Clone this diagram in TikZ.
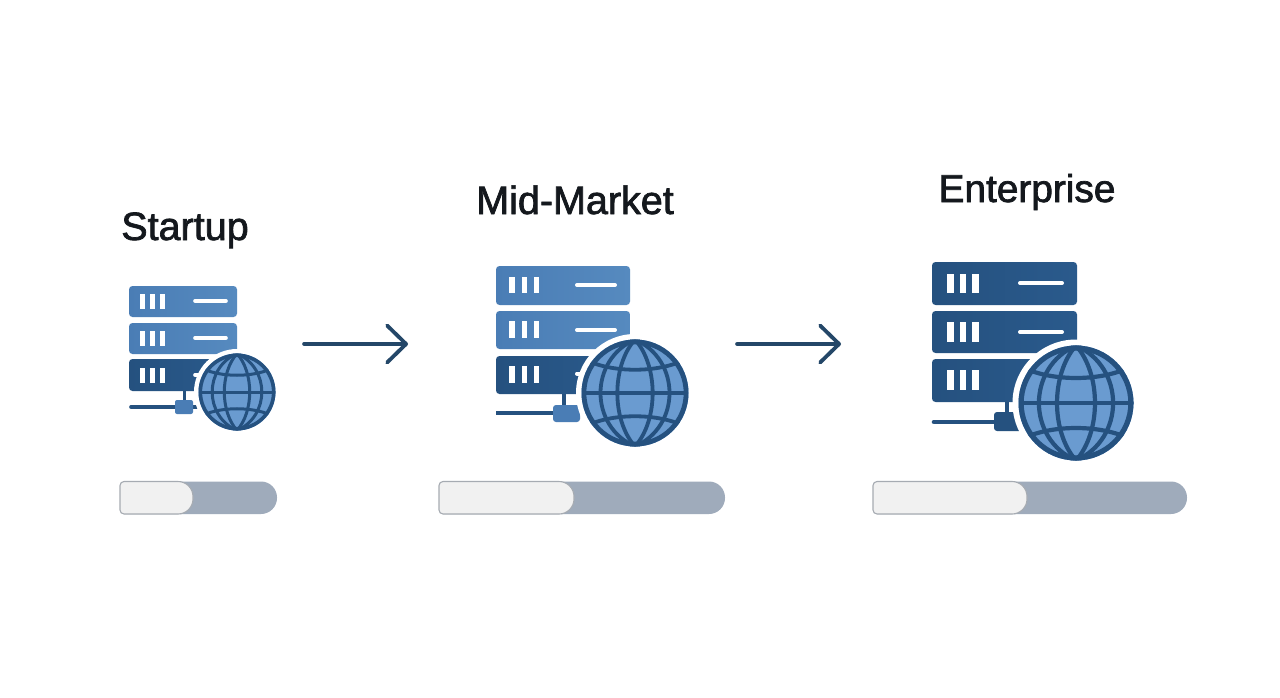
\documentclass[tikz,border=0pt]{standalone}
\usepackage{fontspec}
\setmainfont[FakeBold=1.8]{Liberation Sans}
\usetikzlibrary{arrows.meta}
\definecolor{navy}{HTML}{25517F}
\definecolor{navyB}{HTML}{2A5A8C}
\definecolor{steel}{HTML}{4A7DB5}
\definecolor{steelB}{HTML}{568ABF}
\definecolor{globefill}{HTML}{6A9BD0}
\definecolor{arrowc}{HTML}{244768}
\definecolor{track}{HTML}{9FABBB}
\definecolor{barfill}{HTML}{F1F1F1}
\definecolor{barline}{HTML}{A6ABB2}
\definecolor{inkc}{HTML}{14181D}
\tikzset{
  title/.style={font=\fontsize{#1}{#1}\selectfont,text=inkc,anchor=base,inner sep=0pt},
  lightrow/.style={left color=steel,right color=steelB,draw=none,rounded corners=3.5pt},
  darkrow/.style={left color=navy,right color=navyB,draw=none,rounded corners=3.5pt},
  dashmark/.style={draw=white,line cap=round},
  flow/.style={draw=arrowc,line width=3.6pt,line cap=round,-{Straight Barb[length=19pt,width=37pt,round,line width=3.8pt]}},
}
% rack row: x0 x1 y0 y1 style
\newcommand{\rackrow}[5]{\path[#5] (#1,#3) rectangle (#2,#4);}
% three slots: x1 x2 x3 width y0 y1
\newcommand{\slots}[6]{%
  \fill[white] (#1,#5) rectangle ++(#4,#6-#5);
  \fill[white] (#2,#5) rectangle ++(#4,#6-#5);
  \fill[white] (#3,#5) rectangle ++(#4,#6-#5);}
% globe: cx cy r halo lw ringlw
\newcommand{\globeicon}[6]{%
  \fill[white] (#1,#2) circle[radius=#4];
  \fill[globefill] (#1,#2) circle[radius=#3];
  \begin{scope}[shift={(#1,#2)},x=#3pt,y=#3pt,line width=#5pt,draw=navy]
    \clip (0,0) circle[radius=1];
    \draw (-1,0) -- (1,0);
    \draw (0,-1) .. controls (.44,-.5) and (.44,.5) .. (0,1);
    \draw (0,-1) .. controls (-.44,-.5) and (-.44,.5) .. (0,1);
    \draw (0,-1) .. controls (.86,-.62) and (.86,.62) .. (0,1);
    \draw (0,-1) .. controls (-.86,-.62) and (-.86,.62) .. (0,1);
    \draw (-.88,-.6) .. controls (-.4,-.38) and (.4,-.38) .. (.88,-.6);
    \draw (-.88,.6) .. controls (-.4,.38) and (.4,.38) .. (.88,.6);
  \end{scope}
  \draw[navy,line width=#6pt] (#1,#2) circle[radius=#3-#6/2];}
% progress bar: x0 xfill x1 y0 y1
\newcommand{\progress}[5]{%
  \fill[track] (#1,#4) [rounded corners=4pt] -- (#1,#5) [rounded corners=16pt] -- (#3,#5) -- (#3,#4) [rounded corners=4pt] -- cycle;
  \path[fill=barfill,draw=barline,line width=1.1pt] (#1,#4) [rounded corners=4pt] -- (#1,#5) [rounded corners=15pt] -- (#2,#5) -- (#2,#4) [rounded corners=4pt] -- cycle;}
\begin{document}
\begin{tikzpicture}[x=1pt,y=-1pt]
\useasboundingbox (0,0) rectangle (1280,698);
\fill[white] (0,0) rectangle (1280,698);

\node[title=39.5] (t1) at (185,240) {Startup};
\node[title=39.5] (t2) at (575,214) {Mid-Market};
\node[title=38.8] (t3) at (1027,202) {Enterprise};

% Startup
\rackrow{129}{237}{286}{317}{lightrow}
\rackrow{129}{237}{323}{354}{lightrow}
\rackrow{129}{237}{359}{391}{darkrow}
\slots{140}{150}{160}{5.2}{294}{309}
\slots{140}{150}{160}{5.2}{331}{346}
\slots{140}{150}{160}{5.2}{368}{383}
\draw[dashmark,line width=3.6pt] (195,301) -- (226,301);
\draw[dashmark,line width=3.6pt] (195,338) -- (226,338);
\draw[dashmark,line width=3.6pt] (195,375) -- (226,375);
\draw[navy,line width=3pt] (184,391) -- (184,402);
\draw[navy,line width=3.6pt,line cap=round] (131,407) -- (197,407);
\fill[steel,rounded corners=2pt] (175,400) rectangle (193,414);
\globeicon{237}{392}{38.5}{43}{3}{3.6}

% Mid-Market
\rackrow{496}{630}{266}{305}{lightrow}
\rackrow{496}{630}{311}{349}{lightrow}
\rackrow{496}{630}{356}{394}{darkrow}
\slots{509}{521.5}{533.5}{5.8}{276.5}{293}
\slots{509}{521.5}{533.5}{5.8}{321}{338}
\slots{509}{521.5}{533.5}{5.8}{365.5}{383}
\draw[dashmark,line width=4pt] (577,285) -- (615,285);
\draw[dashmark,line width=4pt] (577,330) -- (615,330);
\draw[dashmark,line width=4pt] (577,373.5) -- (615,373.5);
\draw[navy,line width=3.6pt] (564,394) -- (564,406);
\draw[navy,line width=4.4pt] (496,413) -- (585,413);
\fill[steel,rounded corners=3pt] (553,405) rectangle (580,422);
\globeicon{635}{393}{53.5}{59}{3.8}{4.8}

% Enterprise
\rackrow{932}{1077}{262}{305}{darkrow}
\rackrow{932}{1077}{311}{353}{darkrow}
\rackrow{932}{1077}{359}{402}{darkrow}
\slots{947}{959.5}{972}{6.5}{273.5}{293}
\slots{947}{959.5}{972}{6.5}{322}{342}
\slots{947}{959.5}{972}{6.5}{370}{390}
\draw[dashmark,line width=4pt] (1020,283) -- (1062,283);
\draw[dashmark,line width=4pt] (1020,332) -- (1062,332);
\draw[navy,line width=3.6pt] (1007,402) -- (1007,414);
\draw[navy,line width=4.6pt,line cap=round] (934,422) -- (1000,422);
\fill[navy,rounded corners=3pt] (994,412) rectangle (1022,431);
\globeicon{1076}{403}{57.5}{63.5}{4.2}{5.2}

% Arrows
\coordinate (a1s) at (304,344);
\coordinate (a1e) at (408,344);
\coordinate (a2s) at (737,344);
\coordinate (a2e) at (841,344);
\draw[flow] (a1s) -- (a1e);
\draw[flow] (a2s) -- (a2e);

% Progress bars
\progress{120}{193}{277}{481.5}{514}
\progress{439}{574}{725}{481.5}{514}
\progress{873}{1027}{1187}{481.5}{514}
\end{tikzpicture}
\end{document}
